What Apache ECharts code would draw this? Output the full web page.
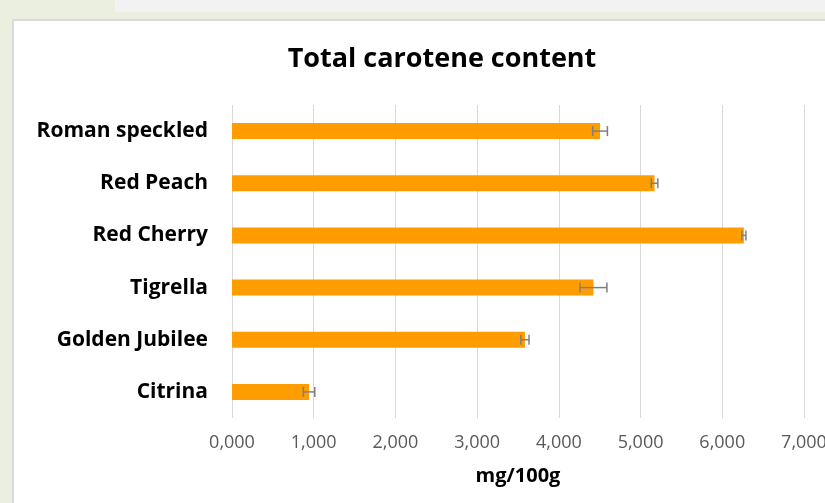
<!DOCTYPE html>
<html>
<head>
<meta charset="utf-8">
<script src="https://cdn.jsdelivr.net/npm/echarts@6/dist/echarts.min.js"></script>
<style>
  html, body { margin: 0; padding: 0; }
  body { width: 825px; height: 503px; background: #ebefdf; position: relative; overflow: hidden; }
  .topbar { position: absolute; left: 115px; top: 0; width: 710px; height: 12px; background: #f2f2f2; }
  .panel { position: absolute; left: 12px; top: 19px; width: 830px; height: 500px; background: #fff; border: 2px solid #d9d9d9; }
  #chart { position: absolute; left: 0; top: 0; width: 825px; height: 503px; }
</style>
</head>
<body>
<div class="topbar"></div>
<div class="panel"></div>
<div id="chart"></div>
<script>
// data (mg/100g)
const varieties = ['Roman speckled', 'Red Peach', 'Red Cherry', 'Tigrella', 'Golden Jubilee', 'Citrina'];
const carotene = [4.504, 5.171, 6.264, 4.423, 3.585, 0.943];
const errors = [0.09, 0.04, 0.025, 0.165, 0.05, 0.07];
const ticks = [0, 1, 2, 3, 4, 5, 6, 7];

const fmt = v => v.toFixed(3).replace('.', ',');

const chart = echarts.init(document.getElementById('chart'));

chart.setOption({
  backgroundColor: 'transparent',
  animation: false,
  title: {
    text: 'Total carotene content',
    left: 437,
    top: 41,
    textAlign: 'center',
    textStyle: {
      fontFamily: 'Open Sans',
      fontSize: 27,
      fontWeight: 'bold',
      color: '#000'
    }
  },
  grid: {
    left: 232,
    right: 21,
    top: 105,
    bottom: 85,
    outerBoundsMode: 'none',
    containLabel: false
  },
  xAxis: {
    type: 'value',
    min: ticks[0],
    max: ticks[ticks.length - 1],
    interval: 1,
    name: 'mg/100g',
    nameLocation: 'middle',
    nameGap: 48,
    nameTextStyle: {
      fontFamily: 'Open Sans',
      fontSize: 20,
      fontWeight: 'bold',
      color: '#000'
    },
    axisLine: { show: false },
    axisTick: { show: false },
    axisLabel: {
      margin: 16,
      fontFamily: 'Open Sans',
      fontSize: 18,
      color: '#595959',
      formatter: fmt
    },
    splitLine: { show: true, lineStyle: { color: '#d9d9d9', width: 1 } }
  },
  yAxis: {
    type: 'category',
    inverse: true,
    data: varieties,
    axisLine: { show: false },
    axisTick: { show: false },
    axisLabel: {
      margin: 24,
      fontFamily: 'Open Sans',
      fontSize: 21,
      fontWeight: 'bold',
      color: '#000'
    }
  },
  series: [
    {
      type: 'bar',
      data: carotene,
      barWidth: 16,
      itemStyle: { color: '#ff9c00' }
    },
    {
      type: 'custom',
      data: carotene.map((v, i) => [i, v, errors[i]]),
      renderItem: function (params, api) {
        const i = api.value(0);
        const v = api.value(1);
        const e = api.value(2);
        const lo = api.coord([v - e, i]);
        const hi = api.coord([v + e, i]);
        const y = lo[1];
        const cap = 5;
        const style = { stroke: '#7f7f7f', lineWidth: 1.5 };
        return {
          type: 'group',
          children: [
            { type: 'line', shape: { x1: lo[0], y1: y, x2: hi[0], y2: y }, style: style },
            { type: 'line', shape: { x1: lo[0], y1: y - cap, x2: lo[0], y2: y + cap }, style: style },
            { type: 'line', shape: { x1: hi[0], y1: y - cap, x2: hi[0], y2: y + cap }, style: style }
          ]
        };
      },
      encode: { x: 1, y: 0 },
      z: 3
    }
  ]
});
</script>
</body>
</html>
